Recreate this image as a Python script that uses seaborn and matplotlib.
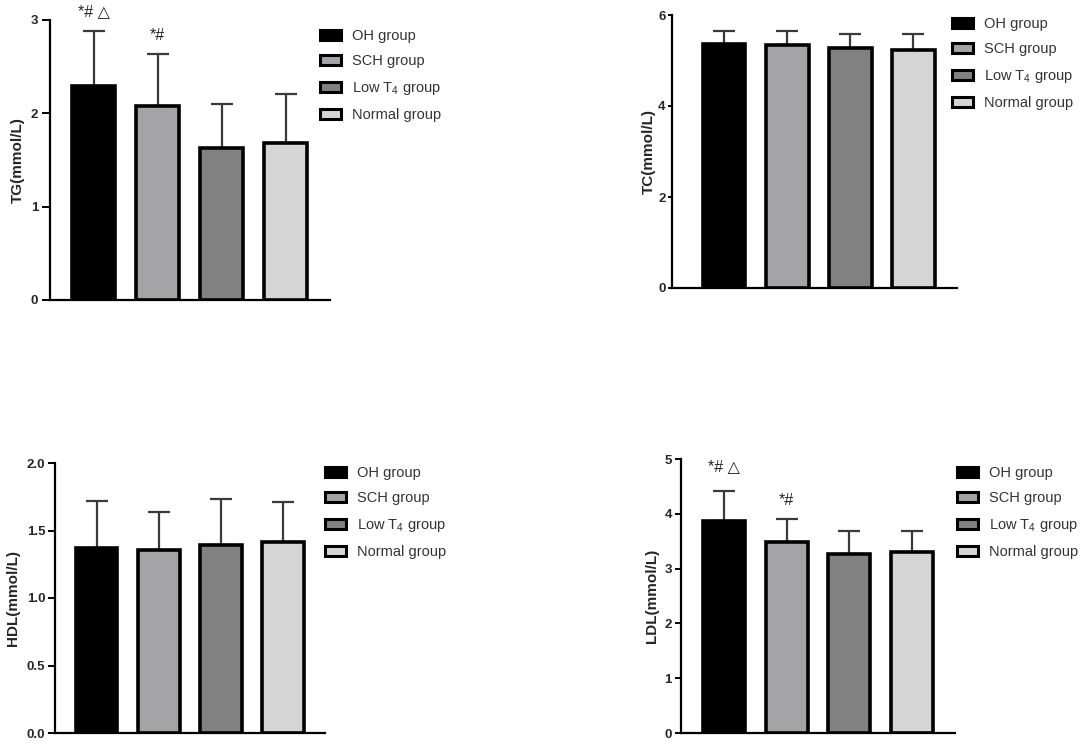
import matplotlib
matplotlib.use("Agg")
import matplotlib.pyplot as plt
import seaborn as sns
import pandas as pd
from matplotlib.patches import Patch

sns.set_style("white")
plt.rcParams['font.family'] = ['Liberation Sans', 'DejaVu Sans']
plt.rcParams['mathtext.fontset'] = 'custom'
plt.rcParams['mathtext.rm'] = 'Liberation Sans'
plt.rcParams['mathtext.default'] = 'regular'

groups = ["OH group", "SCH group", "Low T$_4$ group", "Normal group"]
colors = ["#000000", "#a3a3a8", "#818181", "#d5d5d5"]

tg_mean = [2.29, 2.08, 1.63, 1.68]
tg_sd = [0.59, 0.56, 0.47, 0.53]
tc_mean = [5.37, 5.33, 5.28, 5.24]
tc_sd = [0.28, 0.32, 0.30, 0.34]
hdl_mean = [1.37, 1.355, 1.39, 1.415]
hdl_sd = [0.35, 0.285, 0.34, 0.295]
ldl_mean = [3.86, 3.49, 3.27, 3.30]
ldl_sd = [0.55, 0.41, 0.42, 0.39]

tg_ticks = [0, 1, 2, 3]
tc_ticks = [0, 2, 4, 6]
hdl_ticks = [0.0, 0.5, 1.0, 1.5, 2.0]
ldl_ticks = [0, 1, 2, 3, 4, 5]

tg_notes = ["*# \u25b3", "*#", "", ""]
ldl_notes = ["*# \u25b3", "*#", "", ""]

fig = plt.figure(figsize=(10.84, 7.44), dpi=100)

W, H = 1084, 744
def axes_px(l, r, b, t):
    return fig.add_axes([l / W, (H - b) / H, (r - l) / W, (b - t) / H])

panels = [
    dict(box=(50, 330, 300, 20), mean=tg_mean, sd=tg_sd, ticks=tg_ticks, fmt="{:.0f}",
         label="TG(mmol/L)", notes=tg_notes, note_y=[3.09, 2.83], leg=(320, 29),
         xlim=(-0.68, 3.69), ticklen=5.5, tickpad=3, labelpad=4),
    dict(box=(672, 957, 288, 15), mean=tc_mean, sd=tc_sd, ticks=tc_ticks, fmt="{:.0f}",
         label="TC(mmol/L)", notes=None, note_y=None, leg=(952, 17),
         xlim=(-0.83, 3.69), ticklen=3, tickpad=1.5, labelpad=1.5),
    dict(box=(55, 325, 733, 463), mean=hdl_mean, sd=hdl_sd, ticks=hdl_ticks, fmt="{:.1f}",
         label="HDL(mmol/L)", notes=None, note_y=None, leg=(325, 466),
         xlim=(-0.67, 3.675), ticklen=5, tickpad=2, labelpad=5),
    dict(box=(681, 955, 733, 459), mean=ldl_mean, sd=ldl_sd, ticks=ldl_ticks, fmt="{:.0f}",
         label="LDL(mmol/L)", notes=ldl_notes, note_y=[4.86, 4.24], leg=(957, 466),
         xlim=(-0.68, 3.68), ticklen=4, tickpad=2.5, labelpad=4),
]

for p in panels:
    ax = axes_px(*p["box"])
    df = pd.DataFrame({"group": groups, "value": p["mean"]})
    sns.barplot(data=df, x="group", y="value", hue="group", palette=colors,
                order=groups, hue_order=groups, dodge=False, width=0.67,
                edgecolor="black", linewidth=2.6, legend=False, ax=ax, zorder=3)
    xs = list(range(len(groups)))
    ax.errorbar(xs, p["mean"], yerr=[[0] * 4, p["sd"]], fmt="none",
                ecolor="#3a3a3a", elinewidth=1.6, capsize=8, capthick=1.6, zorder=2)
    ax.set_xlim(*p["xlim"])
    ax.set_ylim(p["ticks"][0], p["ticks"][-1])
    ax.set_yticks(p["ticks"])
    ax.set_yticklabels([p["fmt"].format(t) for t in p["ticks"]], fontweight="bold", fontsize=9.5)
    ax.set_xticks([])
    ax.set_xlabel("")
    ax.set_ylabel(p["label"], fontweight="bold", fontsize=11, labelpad=p["labelpad"])
    for s in ["top", "right"]:
        ax.spines[s].set_visible(False)
    for s in ["left", "bottom"]:
        ax.spines[s].set_color("black")
        ax.spines[s].set_linewidth(1.6)
    ax.tick_params(axis="y", direction="out", length=p["ticklen"], width=1.4, color="black",
                   pad=p["tickpad"], left=True)
    if p["notes"]:
        for i, (txt, yv) in enumerate(zip(p["notes"], p["note_y"])):
            ax.text(i, yv, txt, ha="center", va="center", fontsize=11.5, color="#222222",
                    clip_on=False, family=["Liberation Sans", "DejaVu Sans"])
    handles = [Patch(facecolor=c, edgecolor="black", linewidth=2.2) for c in colors]
    lx, ly = p["leg"]
    fig.legend(handles, groups, loc="upper left", bbox_to_anchor=(lx / W, (H - ly) / H),
               frameon=False, fontsize=10.5, handlelength=1.45, handleheight=0.7,
               handletextpad=0.75, labelspacing=0.78, borderpad=0, borderaxespad=0,
               labelcolor="#333333")

fig.savefig("out.png", dpi=100)
